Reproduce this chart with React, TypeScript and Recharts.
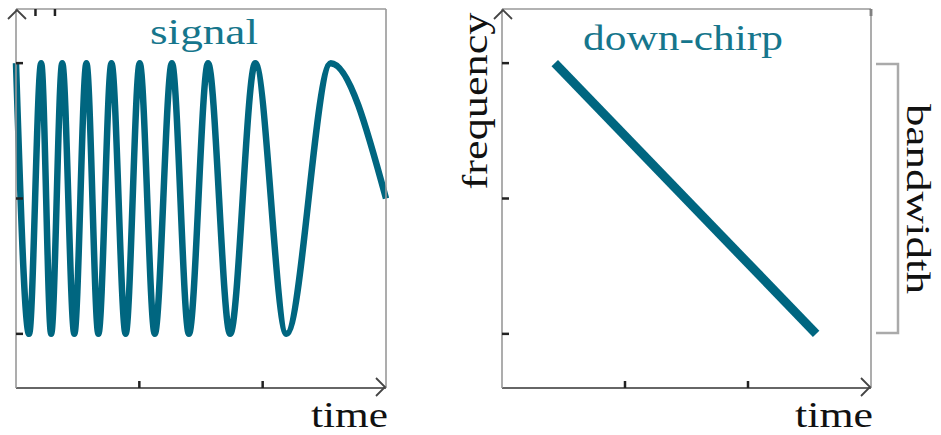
import { LineChart, Line, XAxis, YAxis } from 'recharts';

// signal extrema (time in thirds of the axis, amplitude ±1)
const SIGNAL_TIME = [
  0, 0.106, 0.204, 0.285, 0.375, 0.473, 0.571, 0.668, 0.774, 0.889,
  1.003, 1.125, 1.264, 1.402, 1.557, 1.736, 1.94, 2.193, 2.552, 3.0,
];
const SIGNAL_AMP = [
  1, -1, 1, -1, 1, -1, 1, -1, 1, -1,
  1, -1, 1, -1, 1, -1, 1, -1, 1, 0,
];

// down-chirp: frequency vs time
const CHIRP_TIME = [0.429, 2.554];
const CHIRP_FREQ = [1, -1];

const TIME_TICKS = [1, 2];
const LEVEL_TICKS = [-1, 0, 1];

const TEAL = '#006680';
const TITLE = '#16768c';
const FONT = '"Liberation Serif", serif';

const signalData = SIGNAL_TIME.map((t, i) => ({ t, v: SIGNAL_AMP[i] }));
const chirpData = CHIRP_TIME.map((t, i) => ({ t, v: CHIRP_FREQ[i] }));

const blank = () => '';
const tickStyle = { stroke: '#222', strokeWidth: 2.5 };

function Axes() {
  return [
    <XAxis key="b" xAxisId={0} type="number" dataKey="t" domain={[0, 3]} ticks={TIME_TICKS}
      height={1} mirror tickSize={7} tickFormatter={blank} stroke="#222"
      axisLine={{ stroke: '#333', strokeWidth: 1.6 }} tickLine={tickStyle} />,
    <XAxis key="t" xAxisId="top" orientation="top" type="number" domain={[0, 3]} ticks={TIME_TICKS}
      height={1} mirror tickSize={7} tickFormatter={blank} stroke="#222"
      axisLine={{ stroke: '#999', strokeWidth: 1.6 }} tickLine={tickStyle} />,
    <YAxis key="l" yAxisId={0} type="number" domain={[-1.4, 1.4]} ticks={LEVEL_TICKS}
      width={1} mirror tickSize={7} tickFormatter={blank} stroke="#222"
      axisLine={{ stroke: '#999', strokeWidth: 1.6 }} tickLine={tickStyle} />,
    <YAxis key="r" yAxisId="right" orientation="right" type="number" domain={[-1.4, 1.4]} ticks={LEVEL_TICKS}
      width={1} mirror tickSize={7} tickFormatter={blank} stroke="#222"
      axisLine={{ stroke: '#999', strokeWidth: 1.6 }} tickLine={tickStyle} />,
  ];
}

function ArrowHeads({ x0, x1, y0, y1 }: { x0: number; x1: number; y0: number; y1: number }) {
  const a = 9;
  return (
    <g fill="none" stroke="#444" strokeWidth={1.8}>
      <polyline points={`${x0 - a},${y0 + a} ${x0},${y0} ${x0 + a},${y0 + a}`} />
      <polyline points={`${x1 - a},${y1 - a} ${x1},${y1} ${x1 - a},${y1 + a}`} />
    </g>
  );
}

export default function App() {
  return (
    <div style={{ position: 'absolute', left: 0, top: 0, width: 941, height: 435, background: '#fff' }}>
      <div style={{ position: 'absolute', left: 0, top: 0 }}>
        <LineChart width={400} height={435} data={signalData} margin={{ top: 9, right: 14, bottom: 47, left: 16 }}>
          {Axes()}
          <Line type="monotone" dataKey="v" stroke={TEAL} strokeWidth={6.5} dot={false} isAnimationActive={false} />
        </LineChart>
      </div>
      <div style={{ position: 'absolute', left: 440, top: 0 }}>
        <LineChart width={460} height={435} data={chirpData} margin={{ top: 9, right: 29, bottom: 47, left: 62 }}>
          {Axes()}
          <Line type="linear" dataKey="v" stroke={TEAL} strokeWidth={9} strokeLinecap="butt" dot={false} isAnimationActive={false} />
        </LineChart>
      </div>
      <svg width={941} height={435} style={{ position: 'absolute', left: 0, top: 0, pointerEvents: 'none' }}>
        <ArrowHeads x0={17} y0={10} x1={385} y1={387} />
        <ArrowHeads x0={503} y0={10} x1={870} y1={387} />
        <polyline points="876,64 898,64 898,333 876,333" fill="none" stroke="#aaa" strokeWidth={2.5} />
        <g fontFamily={FONT} fontSize={36}>
          <text x={204} y={44} textAnchor="middle" fill={TITLE} textLength={108} lengthAdjust="spacingAndGlyphs">signal</text>
          <text x={683} y={50} textAnchor="middle" fill={TITLE} textLength={200} lengthAdjust="spacingAndGlyphs">down-chirp</text>
          <text x={388} y={427} textAnchor="end" fill="#111" textLength={77} lengthAdjust="spacingAndGlyphs">time</text>
          <text x={873} y={427} textAnchor="end" fill="#111" textLength={78} lengthAdjust="spacingAndGlyphs">time</text>
          <text transform="translate(487,101) rotate(-90)" textAnchor="middle" fill="#111" textLength={177} lengthAdjust="spacingAndGlyphs">frequency</text>
          <text transform="translate(907,199) rotate(90)" textAnchor="middle" fill="#111" fontSize={34} textLength={190} lengthAdjust="spacingAndGlyphs">bandwidth</text>
        </g>
      </svg>
    </div>
  );
}
